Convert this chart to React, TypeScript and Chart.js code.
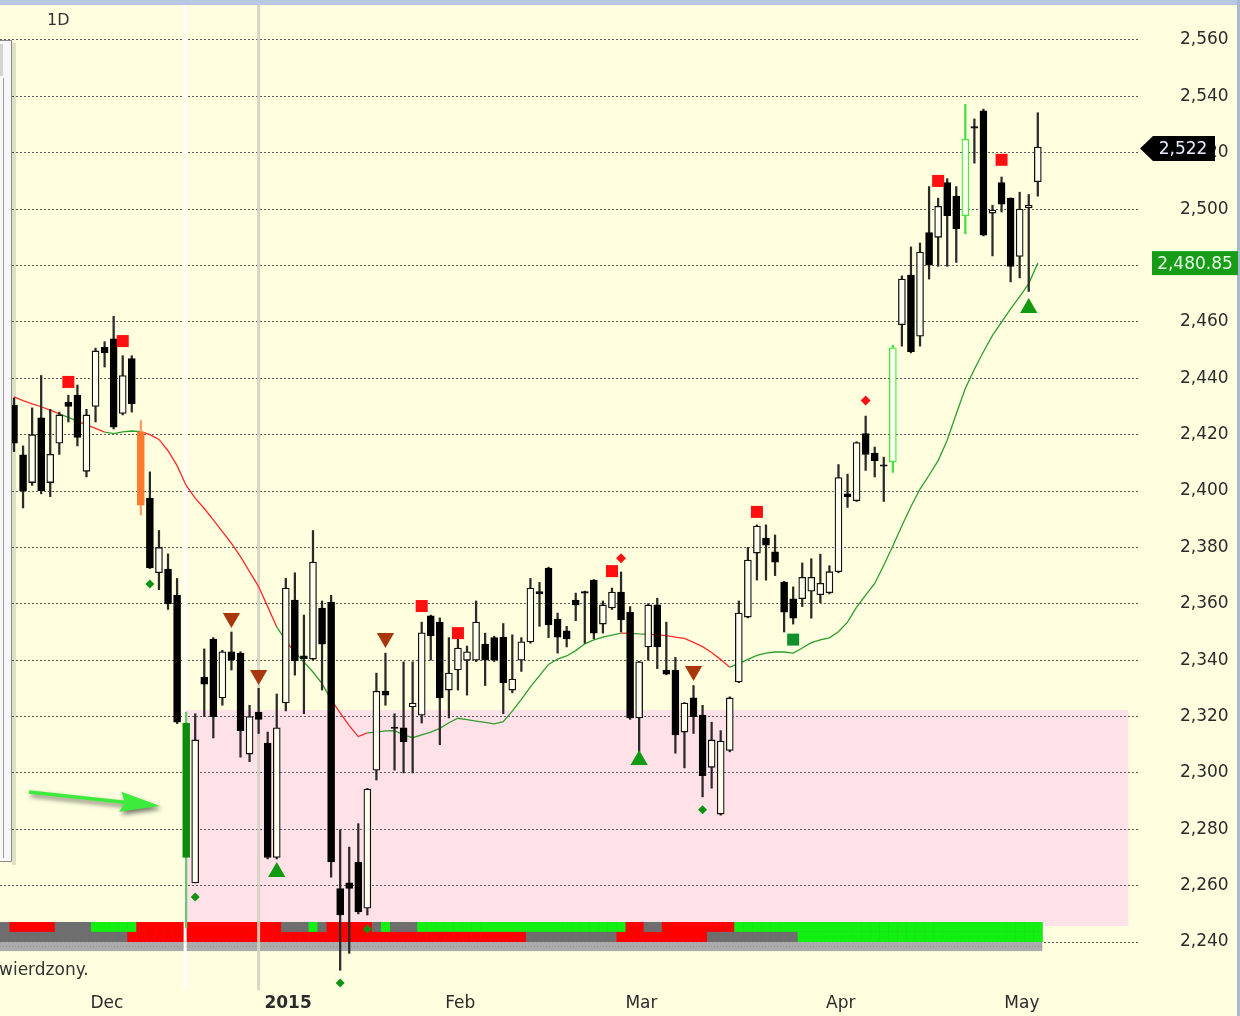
import { useEffect, useRef } from 'react';
import { Chart, registerables } from 'chart.js';

Chart.register(...registerables);

// ---------- DATA ----------
const opens = [
  2430.5, 2412.8, 2403, 2426, 2403, 2417, 2431.5, 2434, 2407, 2430,
  2451, 2454, 2427.5, 2447, 2421, 2397.5, 2371, 2372.3, 2363, 2317.7,
  2261, 2334, 2347.5, 2326.6, 2343, 2342.5, 2306.7, 2321.6, 2310.6, 2270,
  2324.8, 2361.3, 2341.5, 2340.4, 2358.5, 2360.6, 2259, 2261, 2268.4, 2252,
  2301, 2329, 2316.3, 2316, 2323.4, 2320.5, 2355.7, 2353.5, 2329.4, 2336.5,
  2340, 2340, 2345.7, 2348, 2348.2, 2329.4, 2340, 2346.5, 2364.3, 2372.7,
  2354.6, 2350.4, 2361.3, 2364.3, 2368.4, 2352.8, 2358.5, 2364.2, 2357, 2319.5,
  2344.7, 2359.6, 2336.5, 2336.5, 2314.5, 2326.6, 2320.5, 2302, 2285.4, 2308,
  2332.3, 2355.3, 2378, 2383.3, 2378.4, 2367.7, 2361.8, 2361.8, 2364.5, 2363.2,
  2363.9, 2371.4, 2399, 2396.6, 2420.4, 2413.5, 2409.3, 2410.3, 2459, 2476.6,
  2454.9, 2491.7, 2490, 2509.4, 2504.6, 2497.7, 2529.3, 2534.9, 2498.6, 2509.4,
  2503.9, 2483.2, 2500.4, 2509.7,
];
const closes = [
  2417, 2400, 2420, 2400, 2413, 2427, 2430, 2419, 2427, 2449.7,
  2449, 2422.7, 2441, 2431, 2395, 2372.7, 2380, 2360, 2318, 2270,
  2311.7, 2331.5, 2320, 2343, 2340, 2315, 2320, 2319, 2270, 2316,
  2365.6, 2339.7, 2340.5, 2374.8, 2345.7, 2268.4, 2249.6, 2259, 2250.7, 2294.3,
  2329, 2327.6, 2315.8, 2311, 2324.8, 2349.7, 2348.6, 2326.6, 2335.4, 2344.3,
  2343, 2353.5, 2340, 2340, 2332, 2333.3, 2346.5, 2365.6, 2363.5, 2352.5,
  2348.2, 2347.5, 2359.6, 2363.8, 2349.6, 2359.6, 2364.2, 2354.3, 2319.5, 2339.4,
  2359.6, 2344.7, 2335, 2313.5, 2324.8, 2320, 2299, 2311.7, 2311.3, 2326.6,
  2356.7, 2375.5, 2387.6, 2380.8, 2374.8, 2357, 2354.9, 2369.4, 2369.4, 2367.3,
  2371.4, 2404.8, 2397.9, 2417.2, 2413, 2410.8, 2408.8, 2450.8, 2475.2, 2449.4,
  2484.8, 2480.1, 2501, 2497.7, 2493.1, 2524.8, 2528.7, 2490.8, 2499.7, 2501.8,
  2479.7, 2500, 2501.4, 2522,
];
const highs = [
  2433, 2416, 2429.5, 2441, 2429, 2428, 2434, 2437.6, 2429, 2450.7,
  2453, 2462, 2448, 2448, 2425, 2406.8, 2386, 2377.7, 2369, 2321.6,
  2321, 2344, 2348, 2343.5, 2350, 2343, 2324, 2330, 2314.5, 2328,
  2369, 2371, 2356, 2386, 2361, 2363, 2279.8, 2273.7, 2282, 2294.5,
  2335.4, 2342.5, 2321, 2339.4, 2339.4, 2353.5, 2356, 2355, 2348, 2348,
  2345, 2361, 2349.6, 2348.5, 2353, 2349, 2348, 2369, 2367.6, 2373,
  2356.7, 2352, 2363.8, 2364.5, 2368.6, 2361, 2365.6, 2371.3, 2359, 2339.6,
  2360, 2362, 2353.5, 2341, 2325, 2331, 2324, 2318, 2315, 2327,
  2361, 2380, 2388, 2388, 2384.4, 2368, 2366, 2374.5, 2376, 2377.6,
  2373.5, 2409.4, 2406, 2417.5, 2426.6, 2415.6, 2412, 2451.7, 2476.3, 2486.6,
  2488, 2508, 2503.9, 2510.8, 2508, 2537.2, 2532, 2535.5, 2501.4, 2511.4,
  2504, 2506, 2505.2, 2534.2,
];
const lows = [
  2414, 2394, 2402, 2399, 2398, 2413, 2424.5, 2416, 2405, 2424.5,
  2444, 2422, 2427, 2428, 2391.5, 2372.5, 2365, 2358, 2317.5, 2245,
  2261, 2320, 2312.4, 2324, 2336.5, 2305.6, 2304, 2314, 2269.5, 2269.5,
  2322, 2334.7, 2321, 2340, 2329.4, 2263, 2230, 2236, 2250, 2249.6,
  2297.5, 2324, 2301, 2300, 2300, 2317.7, 2340, 2310, 2319.5, 2329.4,
  2327.6, 2339.5, 2331, 2339.5, 2321, 2328.4, 2336, 2346, 2352, 2348,
  2342.5, 2344.7, 2354, 2346, 2347.6, 2349.6, 2358, 2350, 2319, 2307.5,
  2340, 2337, 2334.8, 2307, 2301.8, 2314, 2291.5, 2294.6, 2285, 2307.5,
  2332, 2355, 2368.4, 2368.4, 2370, 2350, 2352.8, 2359, 2354.9, 2360.4,
  2363.5, 2371, 2394.2, 2396.3, 2407.3, 2405, 2396.3, 2406.6, 2451.4, 2449,
  2451.4, 2475.2, 2479.7, 2479.7, 2481.1, 2491.2, 2516.3, 2490.5, 2483.4, 2499,
  2474.2, 2475.6, 2470.8, 2504.6,
];
const maValues = [
  2433.4, 2432.1, 2430.9, 2429.9, 2428.7, 2427.4, 2426.1, 2424.8, 2423.5, 2422.2,
  2420.9, 2420.4, 2421.0, 2421.3, 2421.1, 2420.0, 2418.3, 2414.3, 2409.0, 2402.0,
  2397.5, 2393.8, 2389.8, 2385.6, 2381.4, 2376.7, 2371.4, 2366.1, 2359.0, 2351.8,
  2346.9, 2342.8, 2339.3, 2335.8, 2331.7, 2326.0, 2321.3, 2316.8, 2312.9, 2314.2,
  2314.5, 2314.9, 2315.0, 2313.5, 2312.5, 2313.5, 2314.5, 2315.8, 2317.8, 2319.4,
  2318.9, 2318.4, 2317.9, 2317.4, 2318.2, 2321.9, 2326.1, 2330.5, 2334.5, 2338.5,
  2340.4, 2341.5, 2343.4, 2345.8, 2347.2, 2348.2, 2348.9, 2349.6, 2349.5, 2349.3,
  2349.2, 2349.0, 2348.7, 2348.2, 2347.7, 2346.3, 2344.8, 2342.7, 2340.2, 2337.5,
  2338.8, 2340.3, 2341.7, 2342.5, 2342.9, 2342.9, 2342.5, 2344.3, 2346.2, 2347.2,
  2347.9, 2350.1, 2353.5, 2358.8, 2363.1, 2367.2, 2373.7, 2380.5, 2387.7, 2394.5,
  2400.7, 2405.6, 2410.8, 2418.0, 2427.4, 2436.4, 2443.2, 2449.4, 2455.2, 2459.9,
  2464.6, 2469.0, 2473.6, 2480.85,
];
// MA colour state (run length): r = red, g = green
const maTrendRuns: [string, number][] = [
  ['r', 5], ['g', 2], ['r', 3], ['g', 4], ['r', 15], ['g', 1], ['r', 1], ['g', 4],
  ['r', 4], ['g', 28], ['r', 1], ['g', 2], ['r', 9], ['g', 35],
];
// Indicator strip (run length): r = red, g = green, k = grey
const stripTopRuns: [string, number][] = [
  ['r', 5], ['k', 4], ['g', 5], ['r', 16], ['k', 3], ['g', 1], ['k', 1], ['r', 5],
  ['k', 1], ['g', 1], ['k', 3], ['g', 23], ['r', 2], ['k', 2], ['r', 8], ['g', 34],
];
const stripBottomRuns: [string, number][] = [
  ['k', 13], ['r', 44], ['k', 10], ['r', 10], ['k', 10], ['g', 27],
];
// Specially coloured candles
const specialIdx = [14, 19, 97, 105];
const specialKind = ['orange', 'green', 'lime', 'lime'];

// Signal markers
const redSquareIdx = [6, 12, 45, 49, 66, 82, 102, 109];
const redSquareVal = [2438.7, 2453.2, 2359.2, 2349.6, 2371.6, 2392.6, 2510, 2517.5];
const redDiamondIdx = [67, 94];
const redDiamondVal = [2376.2, 2432.1];
const downTriIdx = [24, 27, 41, 75];
const downTriVal = [2355, 2334.7, 2347.9, 2336.2];
const upTriIdx = [29, 69, 112];
const upTriVal = [2264.9, 2304.6, 2464.9];
const greenDiamondIdx = [15, 20, 36, 39, 76];
const greenDiamondVal = [2367, 2256, 2225.5, 2244.6, 2286.9];
const greenSquareIdx = [86];
const greenSquareVal = [2347.3];

// Axis labels
const yTicks = [2240, 2260, 2280, 2300, 2320, 2340, 2360, 2380, 2400, 2420, 2440, 2460, 2480, 2500, 2520, 2540, 2560];
const monthLabels = ['Dec', '2015', 'Feb', 'Mar', 'Apr', 'May'];
const monthStartIdx = [10, 30, 49, 69, 91, 111];

// Zone & overlays
const zoneStartIdx = 19;
const zoneEndIdx = 123;
const zoneHigh = 2322.3;
const zoneLow = 2245.7;
const cursorIdx = 19;
const yearLineIdx = 27;
const maLastLabel = 2480.85;

const FONT = 'DejaVu Sans';

function expandRuns(runs: [string, number][]) {
  const out: string[] = [];
  runs.forEach(([s, n]) => { for (let k = 0; k < n; k++) out.push(s); });
  return out;
}

export default function App() {
  const ref = useRef<HTMLCanvasElement>(null);

  useEffect(() => {
    document.body.style.margin = '0';
    const canvas = ref.current!;
    const N = opens.length;
    const maTrend = expandRuns(maTrendRuns);
    const stripTop = expandRuns(stripTopRuns);
    const stripBottom = expandRuns(stripBottomRuns);

    const kinds = opens.map((o, i) => {
      const s = specialIdx.indexOf(i);
      if (s >= 0) return specialKind[s];
      return closes[i] > o ? 'up' : 'down';
    });
    const bodyBg = kinds.map(k => k === 'up' ? '#FFFFF0' : k === 'down' ? '#000000' : k === 'orange' ? '#FF7A2E' : k === 'green' ? '#0C8C0C' : '#FFFFF0');
    const bodyBorder = kinds.map(k => k === 'up' ? '#111111' : k === 'down' ? '#000000' : k === 'orange' ? '#FF7A2E' : k === 'green' ? '#0C8C0C' : '#3CEB3C');
    const wickColor = kinds.map(k => k === 'orange' ? '#FF9A60' : k === 'green' ? '#6CC86C' : k === 'lime' ? '#44E044' : '#2A2A2A');

    const pts = (ix: number[], vs: number[]) => ix.map((x, k) => ({ x, y: vs[k] }));

    const colorOf = (s: string) => s === 'r' ? '#FF0000' : s === 'g' ? '#11F011' : '#6E6E6E';

    const deco = {
      id: 'deco',
      beforeDraw(chart: any) {
        const { ctx, width, height, scales } = chart;
        const sx = scales.x, sy = scales.y;
        ctx.save();
        ctx.fillStyle = '#FFFFE0';
        ctx.fillRect(0, 0, width, height);
        const zx0 = sx.getPixelForValue(zoneStartIdx) - 1;
        const zx1 = sx.getPixelForValue(zoneEndIdx);
        const zy0 = sy.getPixelForValue(zoneHigh);
        const zy1 = sy.getPixelForValue(zoneLow);
        ctx.fillStyle = '#FFE2E8';
        ctx.fillRect(zx0, zy0, zx1 - zx0, zy1 - zy0);
        ctx.restore();
      },
      beforeDatasetsDraw(chart: any) {
        const { ctx, chartArea, scales } = chart;
        const sx = scales.x, sy = scales.y;
        ctx.save();
        const r1t = sy.getPixelForValue(2247.1);
        const r1b = sy.getPixelForValue(2243.6);
        const r2b = sy.getPixelForValue(2240.0);
        const bb = sy.getPixelForValue(2236.8);
        const xL = chartArea.left;
        const xR = sx.getPixelForValue(N - 0.5);
        ctx.fillStyle = '#6E6E6E';
        ctx.fillRect(xL, r1t, xR - xL, r2b - r1t);
        for (let i = 0; i < N; i++) {
          const a = sx.getPixelForValue(i - 0.5);
          const b = sx.getPixelForValue(i + 0.5);
          ctx.fillStyle = colorOf(stripTop[i]);
          ctx.fillRect(a, r1t, b - a + 0.3, r1b - r1t);
          ctx.fillStyle = colorOf(stripBottom[i]);
          ctx.fillRect(a, r1b, b - a + 0.3, r2b - r1b);
        }
        ctx.fillStyle = '#ABABAB';
        ctx.fillRect(xL, r2b, xR - xL, bb - r2b);
        ctx.strokeStyle = '#8E8E8E';
        ctx.setLineDash([1, 2]);
        ctx.beginPath();
        ctx.moveTo(xL, (r2b + bb) / 2);
        ctx.lineTo(xR, (r2b + bb) / 2);
        ctx.stroke();
        ctx.setLineDash([]);
        const gx = sx.getPixelForValue(yearLineIdx);
        ctx.fillStyle = 'rgba(210,210,195,0.9)';
        ctx.fillRect(gx - 1.5, 5, 3, chartArea.bottom - 5);
        const cx = sx.getPixelForValue(cursorIdx) - 1.5;
        ctx.fillStyle = '#FFFFFF';
        ctx.fillRect(cx - 1, 5, 3, chartArea.bottom - 5);
        ctx.restore();
      },
      afterDraw(chart: any) {
        const { ctx, width, height, scales } = chart;
        const sy = scales.y;
        ctx.save();
        ctx.fillStyle = '#B6C8E2';
        ctx.fillRect(0, 0, width, 5);
        ctx.fillStyle = '#AAB9D2';
        ctx.fillRect(width - 3, 0, 3, height);
        // left panel
        ctx.fillStyle = 'rgba(0,0,0,0.12)';
        ctx.fillRect(12, 43, 4, 822);
        ctx.fillStyle = '#F7F7F7';
        ctx.fillRect(0, 40, 12, 822);
        ctx.strokeStyle = '#8A8A8A';
        ctx.lineWidth = 1;
        ctx.beginPath();
        ctx.moveTo(11.5, 40); ctx.lineTo(11.5, 861.5); ctx.lineTo(0, 861.5);
        ctx.moveTo(0, 40.5); ctx.lineTo(11.5, 40.5);
        ctx.stroke();
        ctx.fillStyle = '#D4D4D4';
        ctx.fillRect(0, 44, 3, 32);
        ctx.strokeStyle = '#9A9A9A';
        ctx.beginPath();
        ctx.moveTo(3.5, 78); ctx.lineTo(3.5, 858);
        ctx.stroke();
        // texts
        ctx.fillStyle = '#333333';
        ctx.font = `16px "${FONT}"`;
        ctx.textBaseline = 'alphabetic';
        ctx.textAlign = 'left';
        ctx.fillText('1D', 47, 25);
        ctx.font = `17px "${FONT}"`;
        ctx.fillText('wierdzony.', -1, 975);
        // green arrow
        const x0 = 29, y0 = 792, x1 = 160, y1 = 806;
        const ang = Math.atan2(y1 - y0, x1 - x0);
        const L = Math.hypot(x1 - x0, y1 - y0);
        ctx.translate(x0, y0);
        ctx.rotate(ang);
        ctx.shadowColor = 'rgba(0,0,0,0.55)';
        ctx.shadowBlur = 5;
        ctx.shadowOffsetX = 2;
        ctx.shadowOffsetY = 3;
        ctx.beginPath();
        ctx.moveTo(0, -1.8);
        ctx.lineTo(L - 36, -1.8);
        ctx.lineTo(L - 40, -10);
        ctx.lineTo(L, 0);
        ctx.lineTo(L - 40, 10);
        ctx.lineTo(L - 36, 1.8);
        ctx.lineTo(0, 1.8);
        ctx.closePath();
        ctx.fillStyle = '#3DEB3D';
        ctx.fill();
        ctx.setTransform(1, 0, 0, 1, 0, 0);
        ctx.shadowColor = 'transparent';
        ctx.shadowBlur = 0;
        ctx.shadowOffsetX = 0;
        ctx.shadowOffsetY = 0;
        // last price label
        const py = sy.getPixelForValue(closes[N - 1]) + 1.5;
        ctx.fillStyle = '#000000';
        ctx.beginPath();
        ctx.moveTo(1140, py);
        ctx.lineTo(1153, py - 12.5);
        ctx.lineTo(1215, py - 12.5);
        ctx.lineTo(1215, py + 12.5);
        ctx.lineTo(1153, py + 12.5);
        ctx.closePath();
        ctx.fill();
        ctx.fillStyle = '#E6ECFF';
        ctx.font = `17px "${FONT}"`;
        ctx.textAlign = 'center';
        ctx.textBaseline = 'middle';
        ctx.fillText(closes[N - 1].toLocaleString('en-US'), 1183, py + 1);
        // MA label
        const gy = sy.getPixelForValue(maLastLabel);
        ctx.fillStyle = '#169C16';
        ctx.fillRect(1152, gy - 12, 86, 24);
        ctx.fillStyle = '#E8FFE8';
        ctx.fillText(maLastLabel.toLocaleString('en-US', { minimumFractionDigits: 2 }), 1195, gy + 1);
        ctx.restore();
      },
    };

    const chart = new Chart(canvas, {
      type: 'bar',
      data: {
        datasets: [
          {
            type: 'line',
            label: 'MA',
            data: maValues.map((v, i) => ({ x: i, y: v })),
            borderColor: '#2E9E2E',
            borderWidth: 1.3,
            pointRadius: 0,
            tension: 0,
            order: 4,
            segment: {
              borderColor: (c: any) => maTrend[c.p0DataIndex] === 'g' ? '#2E9E2E' : '#FF2A2A',
            },
          } as any,
          {
            type: 'bar',
            label: 'wick',
            data: lows.map((l, i) => ({ x: i, y: [l, highs[i]] })),
            backgroundColor: wickColor,
            borderWidth: 0,
            barThickness: 1.6,
            grouped: false,
            order: 3,
          } as any,
          {
            type: 'bar',
            label: 'body',
            data: opens.map((o, i) => ({ x: i, y: [o, closes[i]] })),
            backgroundColor: bodyBg,
            borderColor: bodyBorder,
            borderWidth: 1.3,
            borderSkipped: false,
            barThickness: 7,
            grouped: false,
            order: 2,
          } as any,
          {
            type: 'scatter',
            data: pts(redSquareIdx, redSquareVal),
            pointStyle: 'rect',
            pointRadius: 8.5,
            pointBackgroundColor: '#FF1010',
            pointBorderWidth: 0,
            order: 1,
          } as any,
          {
            type: 'scatter',
            data: pts(redDiamondIdx, redDiamondVal),
            pointStyle: 'rectRot',
            pointRadius: 5,
            pointBackgroundColor: '#FF1010',
            pointBorderWidth: 0,
            order: 1,
          } as any,
          {
            type: 'scatter',
            data: pts(downTriIdx, downTriVal),
            pointStyle: 'triangle',
            pointRotation: 180,
            pointRadius: 10,
            pointBackgroundColor: '#A8380C',
            pointBorderWidth: 0,
            order: 1,
          } as any,
          {
            type: 'scatter',
            data: pts(upTriIdx, upTriVal),
            pointStyle: 'triangle',
            pointRadius: 10,
            pointBackgroundColor: '#119911',
            pointBorderWidth: 0,
            order: 1,
          } as any,
          {
            type: 'scatter',
            data: pts(greenDiamondIdx, greenDiamondVal),
            pointStyle: 'rectRot',
            pointRadius: 4.5,
            pointBackgroundColor: '#119311',
            pointBorderWidth: 0,
            order: 1,
          } as any,
          {
            type: 'scatter',
            data: pts(greenSquareIdx, greenSquareVal),
            pointStyle: 'rect',
            pointRadius: 8.5,
            pointBackgroundColor: '#118F2A',
            pointBorderWidth: 0,
            order: 1,
          } as any,
        ],
      },
      options: {
        responsive: false,
        animation: false,
        devicePixelRatio: 1,
        layout: { autoPadding: false, padding: { top: 6, left: 0, right: 0, bottom: 0 } },
        plugins: { legend: { display: false }, tooltip: { enabled: false } },
        events: [],
        scales: {
          x: {
            type: 'linear',
            position: 'bottom',
            min: -1.545,
            max: 124.28,
            offset: false,
            grid: { display: false, drawTicks: false, offset: false },
            border: { display: false },
            afterBuildTicks: (s: any) => { s.ticks = monthStartIdx.map(v => ({ value: v + 0.25 })); },
            afterFit: (s: any) => { s.height = 26; s.paddingLeft = 0; s.paddingRight = 0; s.paddingTop = 0; s.paddingBottom = 0; },
            ticks: {
              autoSkip: false,
              maxRotation: 0,
              minRotation: 0,
              padding: 3,
              color: '#2B2B2B',
              font: (c: any) => ({ family: FONT, size: 17, weight: monthLabels[c.index] === '2015' ? 'bold' : 'normal' }),
              callback: (_v: any, i: number) => monthLabels[i],
            },
          },
          y: {
            type: 'linear',
            position: 'right',
            min: 2223.0,
            max: 2572.06,
            grid: { color: '#5A5A5A', lineWidth: 1, drawTicks: false },
            border: { display: false, dash: [2, 2] },
            afterBuildTicks: (s: any) => { s.ticks = yTicks.map(v => ({ value: v })); },
            afterFit: (s: any) => { s.width = 100; s.paddingTop = 0; s.paddingBottom = 0; s.paddingLeft = 0; s.paddingRight = 0; },
            ticks: {
              padding: 40,
              color: '#2B2B2B',
              font: { family: FONT, size: 17 },
              callback: (v: any) => Number(v).toLocaleString('en-US'),
            },
          },
        },
      } as any,
      plugins: [deco],
    });

    return () => chart.destroy();
  }, []);

  return (
    <canvas
      ref={ref}
      width={1240}
      height={1016}
      style={{ display: 'block', width: 1240, height: 1016 }}
    />
  );
}
